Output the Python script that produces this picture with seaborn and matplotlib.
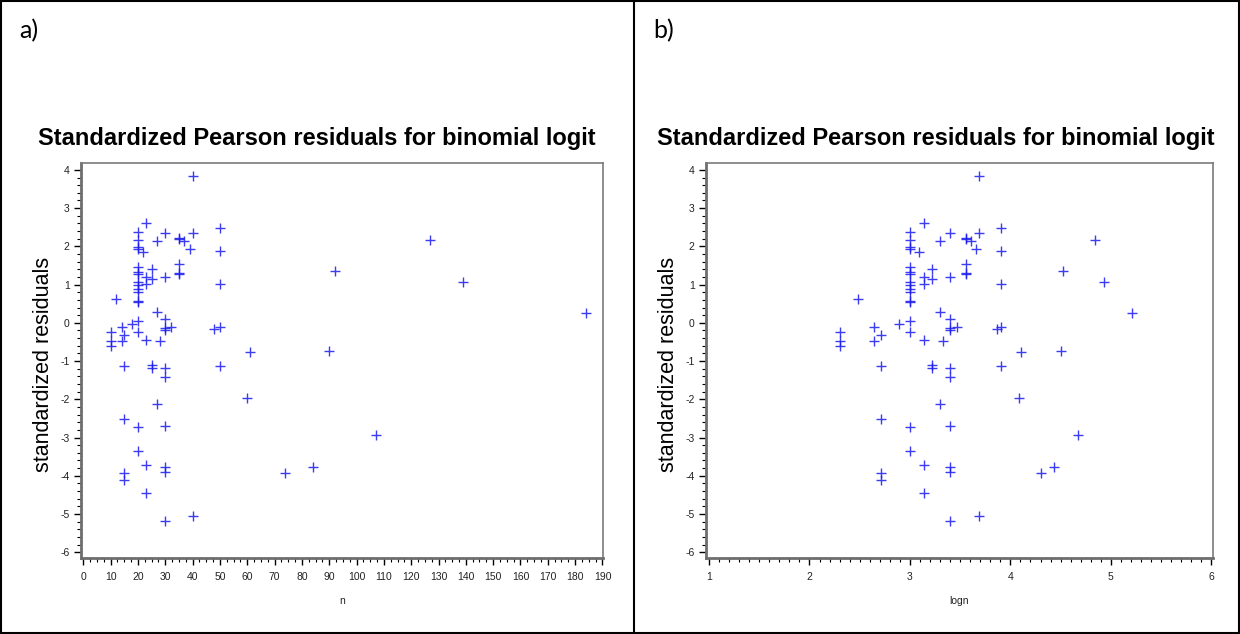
import numpy as np
import pandas as pd
import matplotlib
matplotlib.use("Agg")
import matplotlib.pyplot as plt
from matplotlib.ticker import MultipleLocator
from matplotlib.lines import Line2D
import seaborn as sns

# ---- data ----
n = [10, 10, 10, 12, 14, 14, 15, 15, 15, 15, 15, 18,
     20, 20, 20, 20, 20, 20, 20, 20, 20, 20, 20, 20, 20, 20, 20, 20, 20,
     22, 23, 23, 23, 23, 23, 23, 25, 25, 25, 25, 27, 27, 27, 28,
     30, 30, 30, 30, 30, 30, 30, 30, 30, 30, 30, 32,
     35, 35, 35, 35, 35, 37, 39, 40, 40, 40, 48, 50, 50, 50, 50, 50,
     60, 61, 74, 84, 90, 92, 107, 127, 139, 184]
logn = [2.30, 2.30, 2.30, 2.48, 2.64, 2.64, 2.71, 2.71, 2.71, 2.71, 2.71, 2.89,
        3.00, 3.00, 3.00, 3.00, 3.00, 3.00, 3.00, 3.00, 3.00, 3.00, 3.00, 3.00, 3.00, 3.00, 3.00, 3.00, 3.00,
        3.09, 3.14, 3.14, 3.14, 3.14, 3.14, 3.14, 3.22, 3.22, 3.22, 3.22, 3.30, 3.30, 3.30, 3.33,
        3.40, 3.40, 3.40, 3.40, 3.40, 3.40, 3.40, 3.40, 3.40, 3.40, 3.40, 3.47,
        3.56, 3.56, 3.56, 3.56, 3.56, 3.61, 3.66, 3.69, 3.69, 3.69, 3.87, 3.91, 3.91, 3.91, 3.91, 3.91,
        4.09, 4.11, 4.30, 4.43, 4.50, 4.52, 4.67, 4.84, 4.93, 5.21]
resid = [-0.25, -0.48, -0.60, 0.63, -0.10, -0.47, -0.33, -1.12, -2.52, -3.94, -4.10, -0.04,
         2.38, 2.17, 1.99, 1.92, 1.46, 1.33, 1.28, 1.08, 0.99, 0.89, 0.81, 0.58, 0.55, 0.04, -0.25, -2.73, -3.36,
         1.85, 2.62, 1.20, 1.02, -0.45, -3.72, -4.45, 1.42, 1.14, -1.09, -1.18, 2.14, 0.28, -2.13, -0.47,
         2.34, 1.19, 0.10, -0.13, -0.18, -1.19, -1.42, -2.70, -3.77, -3.90, -5.18, -0.10,
         2.22, 2.18, 1.55, 1.30, 1.27, 2.15, 1.93, 3.85, 2.36, -5.06, -0.17, 2.48, 1.88, 1.02, -0.10, -1.13,
         -1.96, -0.75, -3.92, -3.76, -0.73, 1.35, -2.93, 2.17, 1.06, 0.27]

panel_labels = ["a)", "b)"]
title = "Standardized Pearson residuals for binomial logit"
ylabel = "standardized residuals"

df = pd.DataFrame({"n": n, "logn": logn, "resid": resid})

sns.set_style("white")
plt.rcParams["font.family"] = ["Liberation Sans", "DejaVu Sans"]
plt.rcParams["axes.unicode_minus"] = False
plt.rcParams["text.color"] = "black"
plt.rcParams["axes.labelcolor"] = "black"
plt.rcParams["xtick.color"] = "black"
plt.rcParams["ytick.color"] = "black"

W, H = 1240, 634
fig = plt.figure(figsize=(W / 100, H / 100), dpi=100)

def fx(px):
    return px / W

def fy(py):
    return 1 - py / H

top_px, bot_px = 163, 558
ax_a = fig.add_axes([fx(80.7), fy(bot_px), fx(603 - 80.7), (bot_px - top_px) / H])
ax_b = fig.add_axes([fx(705.7), fy(bot_px), fx(1213.3 - 705.7), (bot_px - top_px) / H])

specs = [
    (ax_a, "n", (-0.95, 190.2), 10, 2.5, "n"),
    (ax_b, "logn", (0.967, 6.02), 1, 0.1, "logn"),
]

for ax, xcol, xlim, major, minor, xlabel in specs:
    sns.scatterplot(data=df, x=xcol, y="resid", ax=ax, marker="+", s=46,
                    color="#1a1aee", linewidth=1.0, alpha=0.85, legend=False)
    ax.set_xlim(*xlim)
    ax.set_ylim(-6.15, 4.18)
    ax.xaxis.set_major_locator(MultipleLocator(major))
    ax.xaxis.set_minor_locator(MultipleLocator(minor))
    ax.yaxis.set_major_locator(MultipleLocator(1))
    ax.yaxis.set_minor_locator(MultipleLocator(0.2))
    ax.tick_params(which="major", direction="out", length=5, width=1.0,
                   color="black", labelcolor="#222222", labelsize=7.5, pad=5,
                   left=True, bottom=True)
    ax.tick_params(which="minor", direction="out", length=3, width=0.8,
                   color="black", left=True, bottom=True)
    ax.tick_params(axis="y", which="major", pad=3)
    for side in ["left", "bottom"]:
        ax.spines[side].set_color("#6e6e6e")
        ax.spines[side].set_linewidth(2.0)
    for side in ["top", "right"]:
        ax.spines[side].set_color("#7a7a7a")
        ax.spines[side].set_linewidth(1.2)
    ax.set_xlabel(xlabel, fontsize=7.5, color="#222222")
    ax.xaxis.set_label_coords(0.5, -0.095)
    ax.set_ylabel(ylabel, fontsize=15.5, color="black")
    ax.yaxis.set_label_coords(-0.052, 0.49)

# titles and panel letters, centred over each cell
cells = [(0, 634), (634, 1238)]
for (x0, x1), lab in zip(cells, panel_labels):
    fig.text(fx((x0 + x1) / 2), fy(139), title, ha="center", va="center",
             fontsize=17, fontweight="bold", color="black")
    fig.text(fx(x0 + 19), fy(31), lab, ha="left", va="center",
             fontsize=18, family=["Lato", "DejaVu Sans"], color="black")

# table border
lw = 1.5
for (xa, ya, xb, yb) in [(1, 1, 1239, 1), (1, 633, 1239, 633), (1, 1, 1, 633),
                         (1238.5, 1, 1238.5, 633), (634, 1, 634, 633)]:
    fig.add_artist(Line2D([fx(xa), fx(xb)], [fy(ya), fy(yb)], color="black",
                          linewidth=lw, transform=fig.transFigure))

fig.savefig("out.png", dpi=100)
